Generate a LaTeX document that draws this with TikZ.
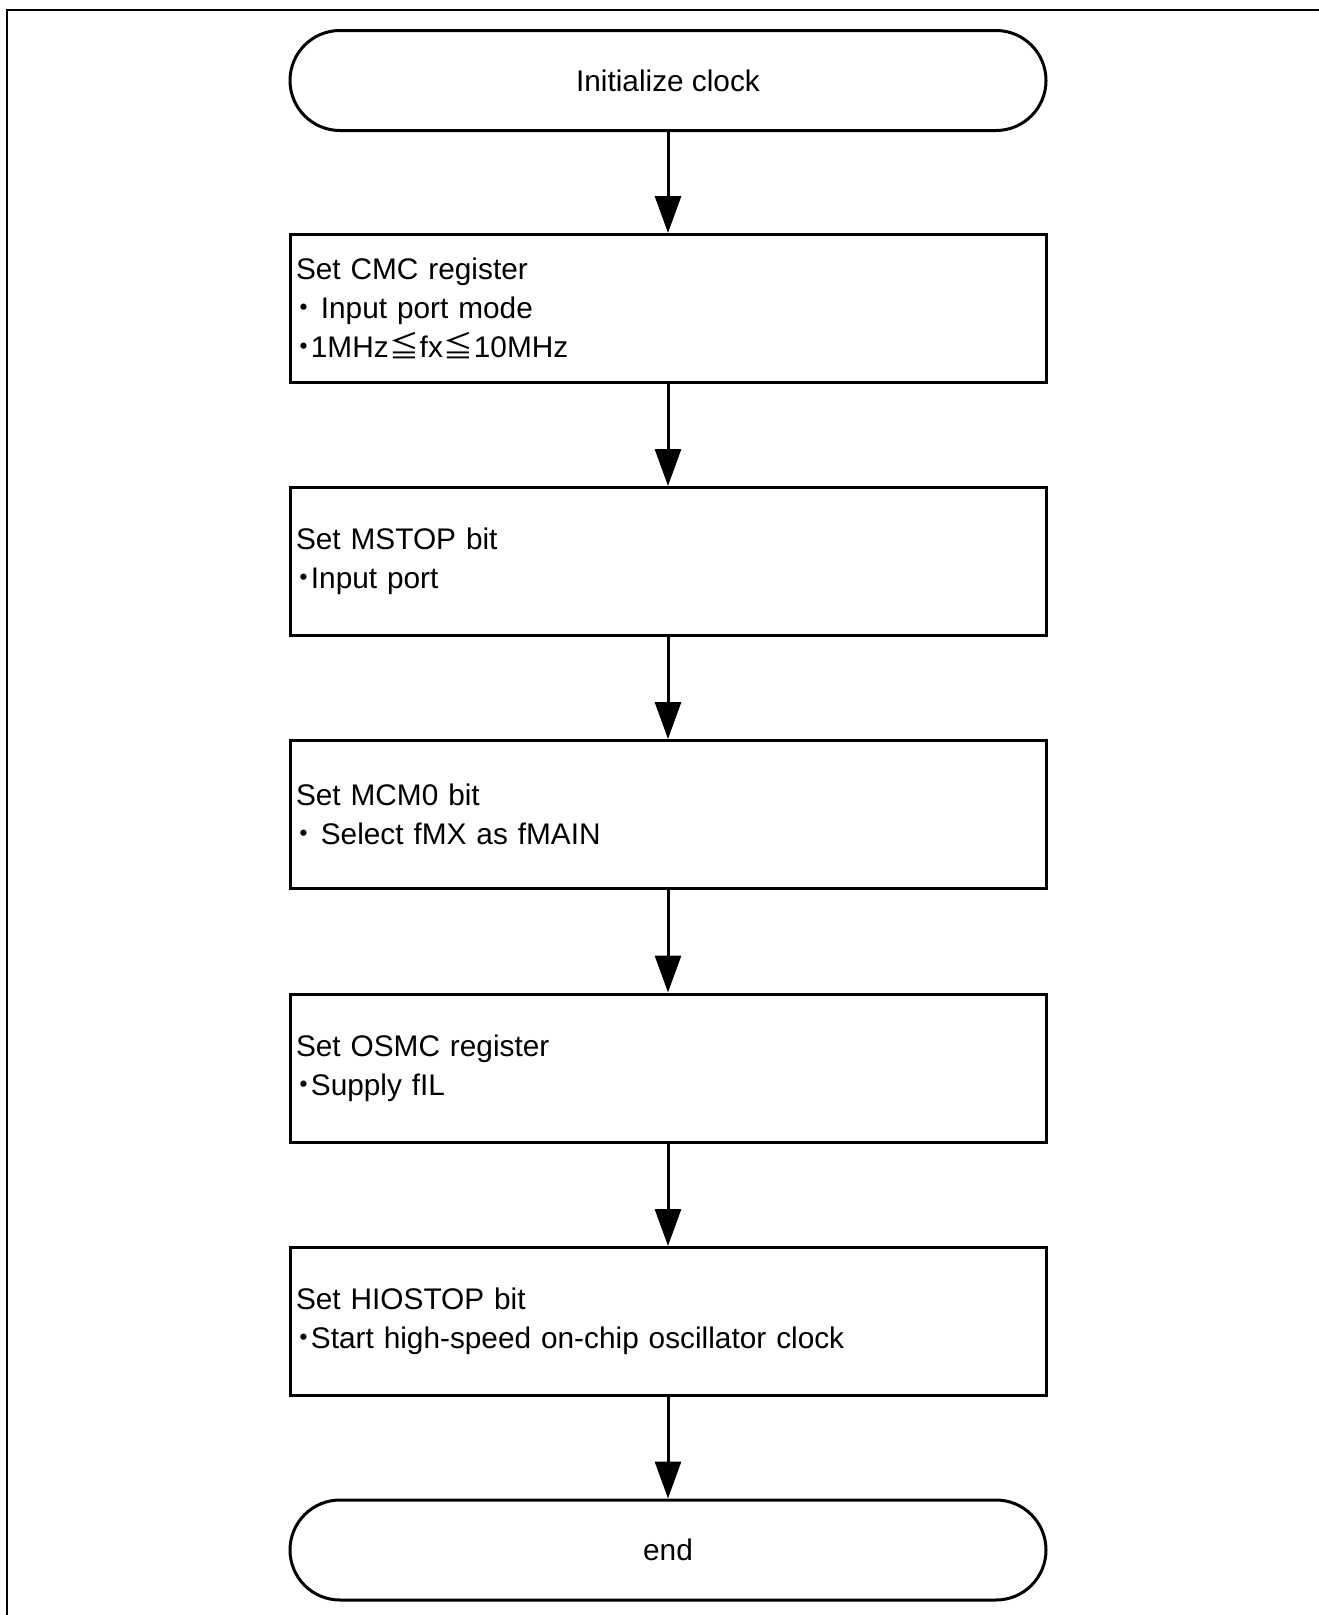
\documentclass[tikz,border=0pt]{standalone}
\usepackage{fontspec}
\setmainfont{Liberation Sans}
\newfontfamily\cjk{Noto Sans CJK JP}
\usetikzlibrary{arrows.meta}
% half-width bullet and "less than or equal" sign taken from the CJK font
\newcommand\kdot{{\cjk\bfseries ･}}
\newcommand\kleq{\makebox[31pt][c]{\cjk ≦}}

\begin{document}
\begin{tikzpicture}[x=1pt,y=-1pt,
  font=\fontsize{29.8}{39}\selectfont,
  terminal/.style={draw, line width=3pt, rectangle, rounded corners=50pt,
    minimum width=756pt, minimum height=100pt, align=center},
  stepbox/.style={draw, line width=3pt, rectangle, minimum width=756pt,
    minimum height=148pt, text width=744pt, inner xsep=6pt, align=left},
  flow/.style={line width=3pt, -{Triangle[width=26pt,length=37pt]}},
  frame/.style={line width=2pt}]
\useasboundingbox (0,0) rectangle (1319,1615);

% outer frame (left and top edges)
\coordinate (fbot) at (7,1615);
\coordinate (fcorner) at (7,10);
\coordinate (fright) at (1319,10);
\draw[frame] (fbot) -- (fcorner) -- (fright);

% flow chart
\node[terminal] (start) at (668,80.5) {Initialize clock};
\node[stepbox] (cmc) at (668,308.5)
  {Set CMC register\\\kdot{} Input port mode\\\kdot 1MHz\kleq fx\kleq 10MHz};
\node[stepbox] (mstop) at (668,561.5) {Set MSTOP bit\\\kdot Input port};
\node[stepbox] (mcm) at (668,814.5) {Set MCM0 bit\\\kdot{} Select fMX as fMAIN};
\node[stepbox] (osmc) at (668,1068) {Set OSMC register\\\kdot Supply fIL};
\node[stepbox] (hio) at (668,1321.5)
  {Set HIOSTOP bit\\\kdot Start high-speed on-chip oscillator clock};
\node[terminal] (stop) at (668,1550) {end};

\draw[flow] (start) -- (cmc);
\draw[flow] (cmc) -- (mstop);
\draw[flow] (mstop) -- (mcm);
\draw[flow] (mcm) -- (osmc);
\draw[flow] (osmc) -- (hio);
\draw[flow] (hio) -- (stop);
\end{tikzpicture}
\end{document}
